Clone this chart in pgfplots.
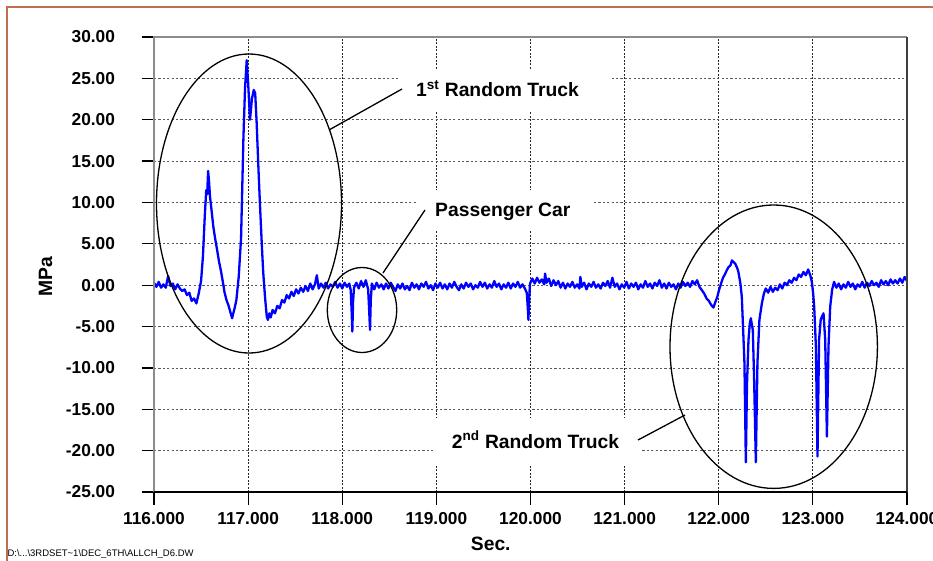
\documentclass[border=0pt]{standalone}
\usepackage{pgfplots}
\pgfplotsset{compat=1.18}
\usepackage{fontspec}
\setmainfont{Liberation Sans}
\definecolor{frame}{RGB}{192,110,78}
\definecolor{trace}{RGB}{0,0,255}
\begin{document}
\begin{tikzpicture}
\useasboundingbox (0pt,0pt) rectangle (933pt,-560pt);
\begin{axis}[
 at={(154pt,-492pt)}, anchor=south west,
 scale only axis, width=753pt, height=455pt,
 xmin=116, xmax=124, ymin=-25, ymax=30,
 xtick={116,...,124}, ytick={-25,-20,...,30},
 clip=false,
 axis line style={draw=none},
 tick pos=left, tick align=outside,
 major tick length=12.5pt,
 tick style={black, line width=1.2pt},
 grid=major,
 x grid style={black!85, line width=0.9pt, dash pattern=on 2pt off 1.5pt},
 y grid style={black!65, line width=0.8pt, dash pattern=on 2.2pt off 2.2pt},
 /pgf/number format/assume math mode=true,
 tick label style={font=\fontsize{17.3}{20}\selectfont\bfseries},
 xticklabel style={yshift=-4pt, /pgf/number format/.cd, fixed, fixed zerofill, precision=3, 1000 sep={}},
 yticklabel style={xshift=-23pt, /pgf/number format/.cd, fixed, fixed zerofill, precision=2},
]
\addplot[trace, line width=2.3pt, line join=round] coordinates {
(116.000,0.3) (116.025,-0.2) (116.050,0.4) (116.075,-0.3) (116.100,0.1) (116.125,-0.3)
(116.150,1.1) (116.175,-0.1) (116.200,0.2) (116.225,-0.5) (116.250,0.1) (116.275,-0.4)
(116.300,-0.7) (116.325,-0.5) (116.350,-1.2) (116.375,-0.9) (116.400,-1.9) (116.425,-1.6)
(116.450,-2.2) (116.475,-1.0)
(116.500,0.5) (116.520,3.5) (116.540,8.5) (116.555,11.5) (116.565,11.0) (116.575,13.8)
(116.585,12.5) (116.595,10.7) (116.610,9.2) (116.630,7.1) (116.650,5.6) (116.670,4.3)
(116.690,2.9) (116.710,1.8) (116.730,0.5) (116.750,-0.9) (116.770,-1.8) (116.790,-2.4)
(116.805,-3.0) (116.820,-3.6) (116.830,-4.0) (116.845,-3.3) (116.860,-2.6) (116.875,-1.8)
(116.900,1.0) (116.925,5.7) (116.950,17.8) (116.967,23.8) (116.985,27.2) (117.000,24.5)
(117.020,20.0) (117.040,22.5) (117.060,23.6) (117.075,23.2) (117.090,19.8) (117.110,14.0)
(117.126,9.7) (117.145,5.0) (117.160,1.6) (117.180,-1.5) (117.198,-3.8) (117.210,-4.2)
(117.225,-3.4) (117.240,-3.9)
(117.260,-3.0) (117.285,-3.4) (117.310,-2.5) (117.335,-2.8) (117.360,-1.8) (117.385,-2.1)
(117.410,-1.2) (117.435,-1.6) (117.460,-0.8) (117.485,-1.3) (117.510,-0.5) (117.535,-1.0)
(117.560,-0.3) (117.585,-0.8) (117.610,-0.1) (117.635,-0.7) (117.660,0.2) (117.685,-0.5)
(117.710,0.1) (117.730,1.2) (117.750,-0.4) (117.775,0.2) (117.800,-0.3) (117.825,0.3)
(117.850,-0.4) (117.875,0.1) (117.900,-0.2) (117.925,0.4) (117.950,-0.3) (117.975,0.2)
(118.000,-0.4) (118.025,0.3) (118.050,-0.2) (118.075,0.2) (118.090,-0.6) (118.100,-3.2)
(118.107,-5.6) (118.115,-2.0) (118.125,-0.3) (118.150,0.3) (118.175,-0.4) (118.200,0.5)
(118.225,-0.2) (118.250,0.6) (118.275,-0.5) (118.285,-2.8) (118.295,-5.4) (118.303,-1.8)
(118.315,0.2) (118.340,-0.5) (118.365,0.3) (118.390,-0.3) (118.415,0.1) (118.440,-0.5)
(118.465,0.2) (118.490,-0.4) (118.515,0.3) (118.540,-0.2) (118.565,-0.7) (118.590,0.1)
(118.615,-0.4) (118.640,0.2) (118.665,-0.5) (118.690,-0.1) (118.715,-0.6) (118.740,0.3)
(118.765,-0.3) (118.790,0.1) (118.815,-0.5) (118.840,0.2) (118.865,-0.2) (118.890,0.4)
(118.915,-0.4) (118.940,0.0) (118.965,-0.6) (118.990,0.2) (119.015,-0.3) (119.040,0.3)
(119.065,-0.4) (119.090,0.1) (119.115,-0.5) (119.140,0.2) (119.165,-0.3) (119.190,0.4)
(119.215,-0.2) (119.240,-0.6) (119.265,0.1) (119.290,-0.4) (119.315,0.3) (119.340,-0.2)
(119.365,0.2) (119.390,-0.5) (119.415,0.0) (119.440,-0.3) (119.465,0.4) (119.490,-0.2)
(119.515,0.3) (119.540,-0.4) (119.565,0.1) (119.590,-0.3) (119.615,0.5) (119.640,-0.2)
(119.665,0.2) (119.690,-0.5) (119.715,0.1) (119.740,-0.3) (119.765,0.3) (119.790,-0.4)
(119.815,0.2) (119.840,-0.2) (119.865,0.4) (119.890,-0.3) (119.915,0.1) (119.940,-0.4)
(119.960,-0.9) (119.970,-2.5) (119.978,-4.2) (119.986,-1.5) (119.995,0.2) (120.020,0.8)
(120.045,0.2) (120.070,0.9) (120.095,0.3) (120.120,0.7) (120.145,0.1) (120.155,1.4)
(120.170,0.3) (120.195,0.8) (120.220,-0.1) (120.245,0.6) (120.270,0.0) (120.295,0.5)
(120.320,-0.3) (120.345,0.3) (120.370,-0.4) (120.395,0.2) (120.420,-0.2) (120.445,0.4)
(120.470,-0.3) (120.495,0.1) (120.520,-0.4) (120.530,1.0) (120.545,-0.2) (120.570,0.3)
(120.595,-0.5) (120.620,0.2) (120.645,-0.2) (120.670,0.4) (120.695,-0.3) (120.720,0.1)
(120.745,-0.4) (120.770,0.3) (120.795,-0.1) (120.820,0.5) (120.845,-0.3) (120.870,0.9)
(120.895,-0.2) (120.920,0.2) (120.945,-0.5) (120.970,0.1) (120.995,-0.3) (121.020,0.4)
(121.045,-0.4) (121.070,0.2) (121.095,-0.2) (121.120,0.3) (121.145,-0.5) (121.170,0.1)
(121.195,-0.3) (121.220,0.5) (121.245,-0.2) (121.270,0.2) (121.295,-0.4) (121.320,0.3)
(121.345,-0.1) (121.370,0.6) (121.395,-0.3) (121.420,0.2) (121.445,-0.4) (121.470,0.3)
(121.495,-0.2) (121.520,0.1) (121.545,-0.5) (121.570,0.2) (121.595,-0.3) (121.620,0.4)
(121.645,-0.1) (121.670,0.3) (121.695,-0.2) (121.720,0.5) (121.745,0.1) (121.770,0.6)
(121.795,-0.2) (121.820,-0.6) (121.845,-1.0) (121.870,-1.6) (121.895,-1.9) (121.920,-2.4)
(121.944,-2.7) (121.965,-2.0) (121.985,-1.4) (122.005,-0.5) (122.025,0.2) (122.045,0.9)
(122.065,1.3) (122.085,1.8) (122.105,2.2) (122.125,2.4) (122.140,3.0) (122.156,2.8)
(122.175,2.6) (122.195,2.1) (122.209,1.6) (122.230,0.2) (122.245,-1.4) (122.262,-6.2)
(122.273,-9.4) (122.288,-21.4) (122.300,-12.0) (122.316,-6.6) (122.330,-4.6) (122.341,-4.0)
(122.352,-4.8) (122.362,-5.4) (122.376,-11.5) (122.394,-21.4) (122.411,-9.4) (122.432,-4.2)
(122.458,-2.2) (122.480,-1.0) (122.500,-0.4) (122.525,-0.9) (122.550,-0.2) (122.575,-0.8)
(122.600,-0.3) (122.625,-0.6) (122.650,0.1) (122.675,-0.4) (122.700,0.3) (122.725,0.0)
(122.750,0.6) (122.775,0.3) (122.800,0.9) (122.825,0.6) (122.850,1.3) (122.875,1.0)
(122.900,1.6) (122.925,1.2) (122.950,1.9) (122.975,1.1) (122.989,0.4) (123.003,-1.0)
(123.014,-2.6) (123.032,-7.4) (123.049,-20.7) (123.066,-6.6) (123.083,-4.2) (123.096,-3.8)
(123.113,-3.4) (123.131,-6.6) (123.149,-18.3) (123.166,-7.4) (123.184,-2.6) (123.205,-0.5)
(123.225,0.4) (123.250,-0.3) (123.275,0.2) (123.300,-0.5) (123.325,0.1) (123.350,-0.3)
(123.375,0.4) (123.400,-0.2) (123.425,0.2) (123.450,-0.5) (123.475,0.1) (123.500,-0.2)
(123.525,0.4) (123.550,-0.3) (123.575,0.3) (123.600,-0.1) (123.625,0.5) (123.650,0.0)
(123.675,0.3) (123.700,-0.2) (123.725,0.6) (123.750,0.1) (123.775,0.5) (123.800,0.0)
(123.825,0.7) (123.850,0.2) (123.875,0.6) (123.900,0.2) (123.925,0.8) (123.950,0.3)
(123.975,1.0) (124.000,0.5)
};
\draw[black!45, line width=1.3pt] (rel axis cs:0,0) -- (rel axis cs:0,1) -- (rel axis cs:1,1);
\draw[black!75, line width=1.6pt] (rel axis cs:1,1) -- (rel axis cs:1,0);
\draw[black, line width=1.3pt] (rel axis cs:0,0) -- (rel axis cs:1,0);
\end{axis}
\begin{scope}[x=1pt,y=-1pt]
\draw[frame, line width=1.5pt] (7,570) -- (7,7) -- (945,7);
\fill[white] (400,70) rectangle (612,112);
\fill[white] (417,190) rectangle (592,230);
\fill[white] (435,418) rectangle (641,465);
\draw[black, line width=1.3pt] (249,203.5) ellipse [x radius=92.5, y radius=149.5];
\draw[black, line width=1.3pt] (362,310) ellipse [x radius=34.7, y radius=42.5];
\draw[black, line width=1.3pt] (773.7,346.7) ellipse [x radius=103.7, y radius=141.7];
\draw[black, line width=1.3pt] (329,130) -- (402,89);
\draw[black, line width=1.3pt] (383,273) -- (425,210);
\draw[black, line width=1.3pt] (685,415) -- (638,440);
\begin{scope}[every node/.style={inner sep=0pt, font=\fontsize{19.3}{22}\selectfont\bfseries}]
\node[anchor=base west] at (416,96.7) {1\textsuperscript{st} Random Truck};
\node[anchor=base west] at (435,216.7) {Passenger Car};
\node[anchor=base west] at (451.7,448.3) {2\textsuperscript{nd} Random Truck};
\node[anchor=base west] at (470.7,550.7) {Sec.};
\node[rotate=90] at (45.7,277) {MPa};
\end{scope}
\node[anchor=base west, inner sep=0pt, font=\fontsize{9.5}{11}\selectfont] at (7.3,556.7) {D:\textbackslash...\textbackslash 3RDSET\textasciitilde 1\textbackslash DEC\_6TH\textbackslash ALLCH\_D6.DW};
\end{scope}
\end{tikzpicture}
\end{document}
